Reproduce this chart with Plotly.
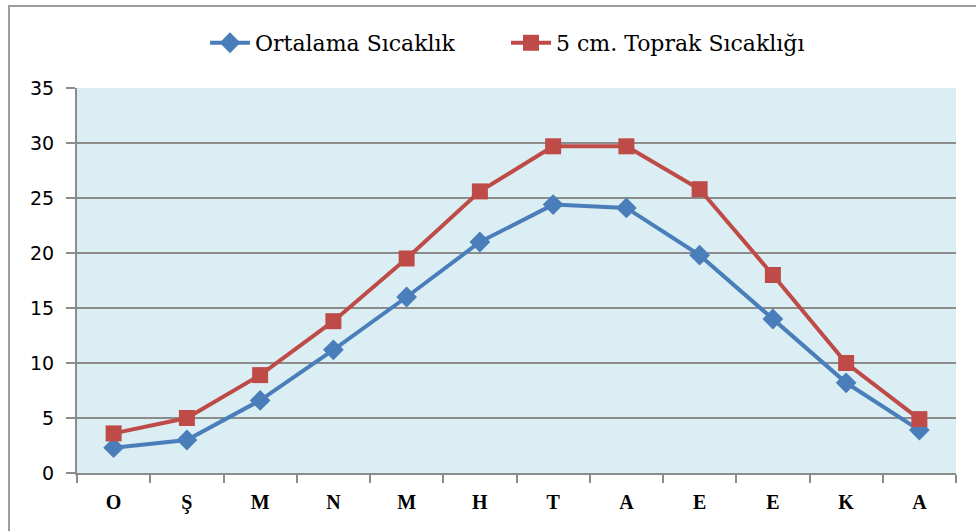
import plotly.graph_objects as go

months = ["O", "Ş", "M", "N", "M", "H", "T", "A", "E", "E", "K", "A"]
ortalama = [2.3, 3.0, 6.6, 11.2, 16.0, 21.0, 24.4, 24.1, 19.8, 14.0, 8.2, 3.9]
toprak = [3.6, 5.0, 8.9, 13.8, 19.5, 25.6, 29.7, 29.7, 25.8, 18.0, 10.0, 4.9]
y_ticks = [0, 5, 10, 15, 20, 25, 30, 35]

x = list(range(len(months)))
blue = "#4A7EBB"
red = "#BE4B48"

fig = go.Figure()
fig.add_trace(go.Scatter(
    x=x, y=ortalama, mode="lines+markers", name="Ortalama Sıcaklık",
    line=dict(color=blue, width=4),
    marker=dict(symbol="diamond", size=16, color=blue),
))
fig.add_trace(go.Scatter(
    x=x, y=toprak, mode="lines+markers", name="5 cm. Toprak Sıcaklığı",
    line=dict(color=red, width=4),
    marker=dict(symbol="square", size=16, color=red),
))

fig.update_layout(
    width=976, height=531,
    margin=dict(l=77, r=20, t=88, b=58),
    paper_bgcolor="white",
    plot_bgcolor="#DBEEF3",
    showlegend=True,
    legend=dict(
        orientation="h", x=(205 - 77) / 879, xanchor="left", y=1.117, yanchor="middle",
        font=dict(family="DejaVu Serif", size=22, color="black"),
        itemwidth=40, entrywidthmode="pixels", entrywidth=246,
        bgcolor="rgba(0,0,0,0)",
    ),
    xaxis=dict(
        range=[-0.5, len(months) - 0.5],
        tickmode="array", tickvals=x, ticktext=months,
        ticks="", showgrid=False, zeroline=False,
        showline=True, linecolor="#8C8C8C", linewidth=2,
        ticklabelstandoff=10,
        tickfont=dict(family="Liberation Serif", size=20, color="black", weight="bold"),
        minor=dict(tickmode="array", tickvals=[i - 0.5 for i in range(len(months) + 1)],
                   ticks="outside", ticklen=8, tickcolor="#8C8C8C", tickwidth=2,
                   showgrid=False),
        fixedrange=True,
    ),
    yaxis=dict(
        range=[0, 35], tickmode="array", tickvals=y_ticks,
        showgrid=True, gridcolor="#8C8C8C", gridwidth=1.5,
        zeroline=False,
        showline=True, linecolor="#8C8C8C", linewidth=2,
        ticks="outside", ticklen=9, tickcolor="#8C8C8C", tickwidth=2,
        ticklabelstandoff=8,
        tickfont=dict(family="DejaVu Sans", size=19, color="black"),
        fixedrange=True,
    ),
    shapes=[dict(type="rect", xref="paper", yref="paper",
                 x0=(9 - 77) / 879, x1=(990 - 77) / 879,
                 y0=(473 - 545) / 385, y1=(473 - 6) / 385,
                 line=dict(color="#9C9C9C", width=2), layer="below")],
)

fig.write_html("out.html", config={"displayModeBar": False},
               post_script="document.body.style.margin='0';")
